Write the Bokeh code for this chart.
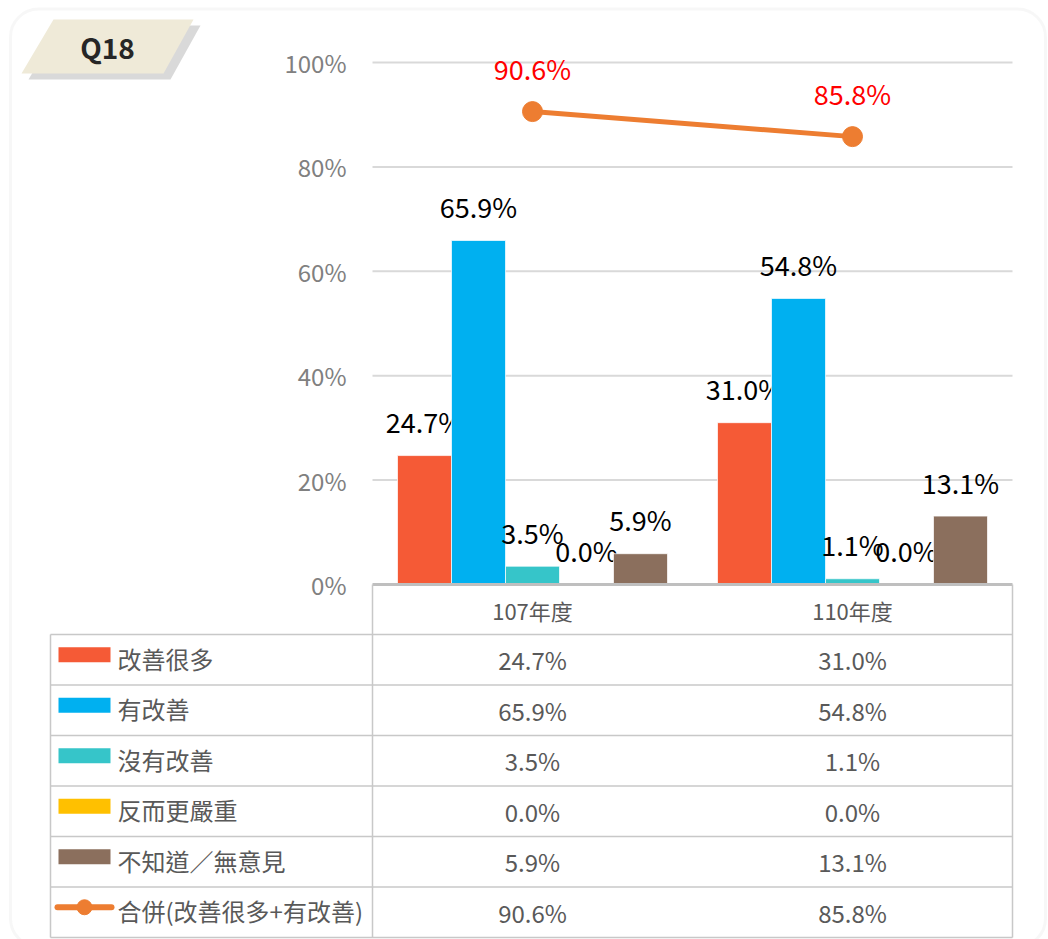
from bokeh.plotting import figure
from bokeh.models import Range1d, BoxAnnotation
from bokeh.core.properties import value
from bokeh.embed import file_html
from bokeh.resources import INLINE

# ---------------- data ----------------
title_tag = "Q18"
categories = ["107年度", "110年度"]
series_names = ["改善很多", "有改善", "沒有改善", "反而更嚴重", "不知道／無意見"]
much_improved = [24.7, 31.0]
improved = [65.9, 54.8]
not_improved = [3.5, 1.1]
worse = [0.0, 0.0]
no_opinion = [5.9, 13.1]
combined_name = "合併(改善很多+有改善)"
combined = [90.6, 85.8]
y_ticks = [0, 20, 40, 60, 80, 100]
tick_labels = ["0%", "20%", "40%", "60%", "80%", "100%"]

series_values = [much_improved, improved, not_improved, worse, no_opinion]
series_colors = ["#F55A36", "#00B0F0", "#36C5C9", "#FFC000", "#8B6F5D"]
line_color = "#ED7D31"

# ---------------- layout ----------------
W, H = 1048, 939
M = 0
PLOT_L, PLOT_R = 372, 1012
BASE_Y, TOP_Y = 584, 62
SX = (PLOT_R - PLOT_L) / len(categories)
SY = (BASE_Y - TOP_Y) / 100.0

x_start = -0.5 - (PLOT_L - M) / SX
x_end = x_start + W / SX
y_end = (BASE_Y - M) / SY
y_start = y_end - H / SY


def dx(sx):
    return x_start + (sx - M) / SX


def dy(sy):
    return y_end - (sy - M) / SY


FONT = value("Noto Sans CJK TC")

p = figure(width=W, height=H, x_range=Range1d(x_start, x_end), y_range=Range1d(y_start, y_end),
           output_backend="svg", toolbar_location=None, min_border=0,
           x_axis_location=None, y_axis_location=None)
p.grid.visible = False
p.outline_line_color = None
p.background_fill_color = "white"
p.border_fill_color = "white"

# card
card = BoxAnnotation(left=dx(10), right=dx(1045), top=dy(8.5), bottom=dy(946),
                     fill_color=None, line_color="#E6E6E6", line_width=3,
                     border_radius=28, level="underlay")
p.add_layout(card)

# Q18 tag
tag_x = [53, 193, 163, 21]
tag_y = [19, 19, 73, 73]
p.patch([dx(v + 7) for v in tag_x], [dy(v + 6) for v in tag_y], fill_color="#D9D9D9", line_color=None)
p.patch([dx(v) for v in tag_x], [dy(v) for v in tag_y], fill_color="#EFEAD8", line_color=None)
p.text(x=[dx(107)], y=[dy(46)], text=[title_tag], text_font=FONT, text_font_size="28px",
       text_font_style="bold", text_color="#262626", text_align="center", text_baseline="middle")

cx = list(range(len(categories)))

# gridlines
grid_vals = [t for t in y_ticks if t > 0]
p.segment(x0=[-0.5] * len(grid_vals), x1=[len(categories) - 0.5] * len(grid_vals),
          y0=grid_vals, y1=grid_vals, line_color="#D9D9D9", line_width=2)

# y tick labels
p.text(x=[dx(346)] * len(y_ticks), y=y_ticks, text=tick_labels, text_font=FONT,
       text_font_size="24px", text_color="#808080", text_align="right", text_baseline="middle")

# bars
bar_w = 54 / SX
n = len(series_values)
for i, (vals, col) in enumerate(zip(series_values, series_colors)):
    xs = [c + (i - (n - 1) / 2) * bar_w for c in cx]
    p.vbar(x=xs, top=vals, bottom=0, width=bar_w, fill_color=col,
           line_color="white", line_width=1, line_alpha=0.7)
    p.text(x=xs, y=vals, text=[f"{v:.1f}%" for v in vals], y_offset=-34, text_font=FONT,
           text_font_size="27px", text_color="#000000", text_align="center", text_baseline="middle")

# baseline
p.segment(x0=[-0.5], x1=[len(categories) - 0.5], y0=[0], y1=[0], line_color="#BFBFBF", line_width=3)

# combined line
p.line(x=cx, y=combined, line_color=line_color, line_width=5)
p.scatter(x=cx, y=combined, size=20, fill_color=line_color, line_color=line_color)
p.text(x=cx, y=combined, text=[f"{v:.1f}%" for v in combined], y_offset=-43, text_font=FONT,
       text_font_size="27px", text_color="#FF0000", text_align="center", text_baseline="middle")

# ---------------- data table ----------------
header_bottom = -50 / SY
row_h = 50.5 / SY
all_rows = series_values + [combined]
row_names = series_names + [combined_name]
edges = [header_bottom - k * row_h for k in range(len(all_rows) + 1)]
centers = [e - row_h / 2 for e in edges[:-1]]
tbl_col = "#C8C8C8"
left_edge = dx(50)
right_edge = len(categories) - 0.5

p.segment(x0=[left_edge] * len(edges), x1=[right_edge] * len(edges), y0=edges, y1=edges,
          line_color=tbl_col, line_width=1.5)
p.segment(x0=[-0.5, right_edge], x1=[-0.5, right_edge], y0=[0, 0], y1=[edges[-1]] * 2,
          line_color=tbl_col, line_width=1.5)
p.segment(x0=[left_edge], x1=[left_edge], y0=[edges[0]], y1=[edges[-1]],
          line_color=tbl_col, line_width=1.5)

# header categories
p.text(x=cx, y=[header_bottom / 2 - 0.5 / SY] * len(cx), text=categories, text_font=FONT,
       text_font_size="22px", text_color="#595959", text_align="center", text_baseline="middle")

# cell values
for r, vals in enumerate(all_rows):
    p.text(x=cx, y=[centers[r]] * len(cx), text=[f"{v:.1f}%" for v in vals], text_font=FONT,
           text_font_size="24px", text_color="#595959", text_align="center", text_baseline="middle")

# legend swatches
sw_c = [c + 5 / SY for c in centers[:len(series_values)]]
p.quad(left=[dx(58)] * len(sw_c), right=[dx(110)] * len(sw_c),
       top=[c + 7.5 / SY for c in sw_c], bottom=[c - 7.5 / SY for c in sw_c],
       fill_color=series_colors, line_color=None)
lc = centers[-1] + 5 / SY
p.segment(x0=[dx(57)], x1=[dx(111)], y0=[lc], y1=[lc], line_color=line_color, line_width=6,
          line_cap="round")
p.scatter(x=[dx(84)], y=[lc], size=15, fill_color=line_color, line_color=line_color)

p.text(x=[dx(117)] * len(row_names), y=[c + 1.5 / SY for c in centers], text=row_names, text_font=FONT,
       text_font_size="24px", text_color="#595959", text_align="left", text_baseline="middle")

open("out.html", "w").write(file_html(p, INLINE))
